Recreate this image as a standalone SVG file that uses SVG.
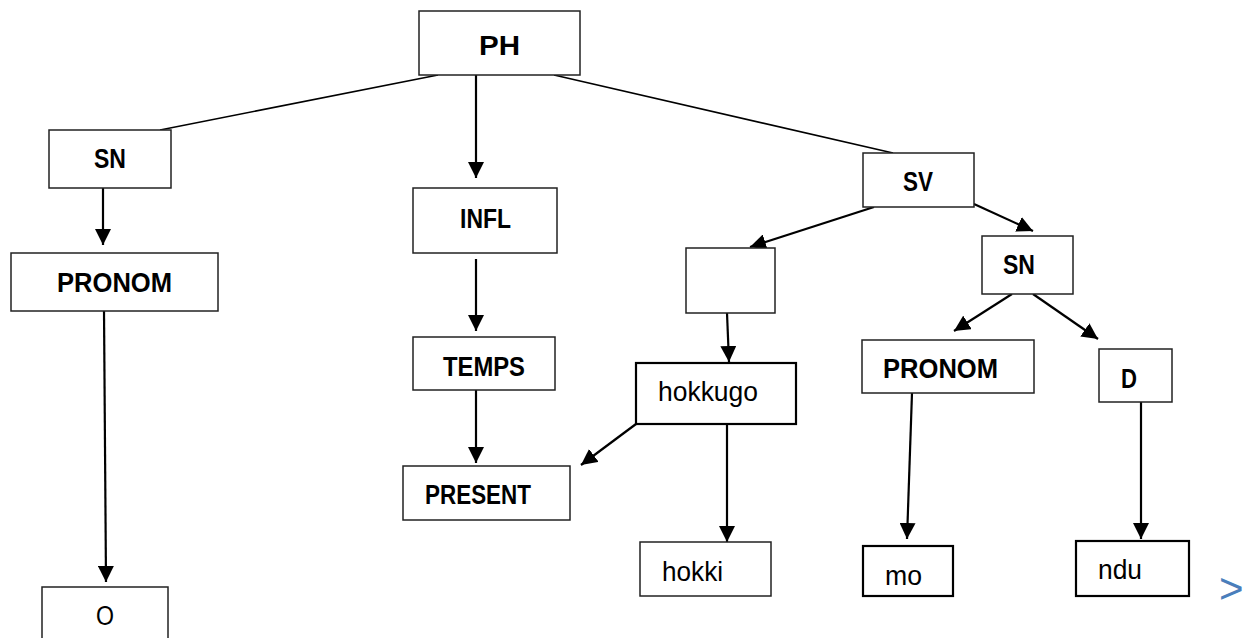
<svg xmlns="http://www.w3.org/2000/svg" width="1253" height="638" viewBox="0 0 1253 638">
<defs>
<style>
.box{fill:#fff;stroke:#222;stroke-width:1.5}
.thick{stroke-width:2.2;stroke:#000}
.b{font-family:"Liberation Sans",Arial,sans-serif;font-weight:bold;font-size:27px;fill:#000}
.r{font-family:"Liberation Sans",Arial,sans-serif;font-size:27px;fill:#000}
.ln{stroke:#000;stroke-width:1.6;fill:none}
.ar{stroke:#000;stroke-width:2.2;fill:none;marker-end:url(#ah)}
</style>
<marker id="ah" viewBox="0 0 16 16" refX="16" refY="8" markerWidth="16" markerHeight="16" orient="auto" markerUnits="userSpaceOnUse">
<path d="M0,0 L16,8 L0,16 z" fill="#000"/>
</marker>
</defs>
<rect width="1253" height="638" fill="#fff"/>
<g id="connectors">
<line class="ln" x1="438" y1="75" x2="160" y2="130"/>
<line class="ln" x1="554" y1="75" x2="893" y2="153"/>
<line class="ar" x1="476" y1="75" x2="476" y2="178"/>
<line class="ar" x1="103" y1="188" x2="103" y2="245"/>
<line class="ar" x1="104" y1="311" x2="106" y2="582"/>
<line class="ar" x1="476" y1="259" x2="476" y2="331"/>
<line class="ar" x1="476" y1="390" x2="476" y2="463"/>
<line class="ar" x1="874" y1="207" x2="750" y2="247"/>
<line class="ar" x1="974" y1="204" x2="1033" y2="231"/>
<line class="ar" x1="727" y1="313" x2="729" y2="362"/>
<line class="ar" x1="636" y1="424" x2="581" y2="465"/>
<line class="ar" x1="727" y1="424" x2="727" y2="542"/>
<line class="ar" x1="1012" y1="294" x2="954" y2="331"/>
<line class="ar" x1="1033" y1="294" x2="1098" y2="339"/>
<line class="ar" x1="912" y1="393" x2="907" y2="539"/>
<line class="ar" x1="1141" y1="402" x2="1141" y2="539"/>
</g>
<g id="PH"><rect class="box" x="419" y="11" width="161" height="64"/><text class="b" x="479" y="55" font-size="34" textLength="41" lengthAdjust="spacingAndGlyphs">PH</text></g>
<g id="SN1"><rect class="box" x="49" y="130" width="122" height="58"/><text class="b" x="94" y="168" textLength="32" lengthAdjust="spacingAndGlyphs">SN</text></g>
<g id="PRONOM1"><rect class="box" x="11" y="253" width="207" height="58"/><text class="b" x="57" y="292" textLength="115" lengthAdjust="spacingAndGlyphs">PRONOM</text></g>
<g id="O"><rect class="box" x="42" y="587" width="126" height="60"/><text class="r" x="96" y="625" textLength="18" lengthAdjust="spacingAndGlyphs">O</text></g>
<g id="INFL"><rect class="box" x="413" y="188" width="144" height="65"/><text class="b" x="460" y="228" textLength="51" lengthAdjust="spacingAndGlyphs">INFL</text></g>
<g id="TEMPS"><rect class="box" x="413" y="337" width="142" height="53"/><text class="b" x="443" y="376" textLength="82" lengthAdjust="spacingAndGlyphs">TEMPS</text></g>
<g id="PRESENT"><rect class="box" x="403" y="466" width="167" height="54"/><text class="b" x="425" y="504" textLength="106" lengthAdjust="spacingAndGlyphs">PRESENT</text></g>
<g id="SV"><rect class="box" x="863" y="153" width="111" height="54"/><text class="b" x="903" y="191" textLength="30" lengthAdjust="spacingAndGlyphs">SV</text></g>
<g id="V"><rect class="box" x="686" y="248" width="89" height="65"/></g>
<g id="hokkugo"><rect class="box thick" x="636" y="363" width="160" height="61"/><text class="r" x="658" y="401" textLength="100" lengthAdjust="spacingAndGlyphs">hokkugo</text></g>
<g id="hokki"><rect class="box" x="640" y="542" width="131" height="54"/><text class="r" x="662" y="581" textLength="61" lengthAdjust="spacingAndGlyphs">hokki</text></g>
<g id="SN2"><rect class="box" x="982" y="236" width="91" height="58"/><text class="b" x="1003" y="274" textLength="32" lengthAdjust="spacingAndGlyphs">SN</text></g>
<g id="PRONOM2"><rect class="box" x="862" y="340" width="172" height="53"/><text class="b" x="883" y="378" textLength="115" lengthAdjust="spacingAndGlyphs">PRONOM</text></g>
<g id="D"><rect class="box" x="1099" y="349" width="73" height="53"/><text class="b" x="1121" y="388" textLength="16" lengthAdjust="spacingAndGlyphs">D</text></g>
<g id="mo"><rect class="box thick" x="863" y="546" width="90" height="50"/><text class="r" x="885" y="585" textLength="37" lengthAdjust="spacingAndGlyphs">mo</text></g>
<g id="ndu"><rect class="box thick" x="1076" y="541" width="113" height="55"/><text class="r" x="1098" y="579" textLength="44" lengthAdjust="spacingAndGlyphs">ndu</text></g>
<text x="1219" y="603" font-family="Liberation Sans, Arial, sans-serif" font-size="42" fill="#4a7ebb">&gt;</text>
</svg>
